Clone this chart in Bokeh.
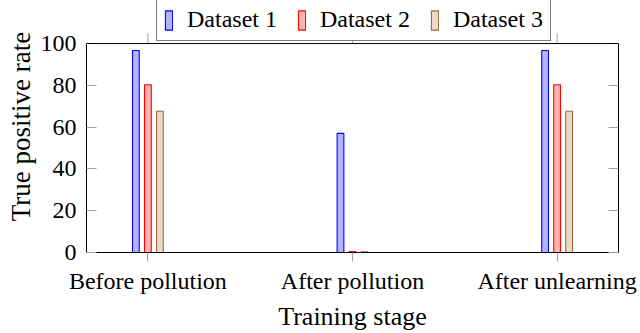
from bokeh.plotting import figure
from bokeh.models import (Range1d, FixedTicker, LinearAxis, Legend, LegendItem, Span)
from bokeh.transform import dodge
from bokeh.embed import file_html
from bokeh.resources import INLINE

stages = ["Before pollution", "After pollution", "After unlearning"]
dataset1 = [96.7, 57.0, 96.7]
dataset2 = [80.3, 0.5, 80.3]
dataset3 = [67.6, 0.3, 67.6]
y_ticks = [0, 20, 40, 60, 80, 100]
series_names = ["Dataset 1", "Dataset 2", "Dataset 3"]

FONT = "Liberation Serif"
FS = "24px"
TICK = "#a0a0a0"

Y_MAX = 100
Y_TOP = 120.6  # extra room above the axis box for the legend

xs = list(range(len(stages)))
src = dict(x=xs, d1=dataset1, d2=dataset2, d3=dataset3)

p = figure(width=640, height=333, output_backend="svg", toolbar_location=None,
           x_range=Range1d(-0.3, 2.3), y_range=Range1d(0, Y_TOP),
           min_border_left=86, min_border_right=22, min_border_top=0, min_border_bottom=80)
p.grid.visible = False
p.outline_line_color = None
p.background_fill_color = "white"
p.border_fill_color = "white"

# top border of the axis box
p.add_layout(Span(location=Y_MAX, dimension="width", line_color="black", line_width=1))

# top tick marks (outward, above the box)
p.segment(x0=xs, x1=xs, y0=[Y_MAX] * len(xs), y1=[Y_MAX + 5.0] * len(xs),
          line_color=TICK, line_width=1)

bw = 0.033
off = 0.0587
r1 = p.vbar(x=dodge("x", -off), top="d1", width=bw, source=src,
            fill_color="#b3b3ff", line_color="#0000ff", line_width=1.1)
r2 = p.vbar(x=dodge("x", 0), top="d2", width=bw, source=src,
            fill_color="#ffb3b3", line_color="#ff0000", line_width=1.1)
r3 = p.vbar(x=dodge("x", off), top="d3", width=bw, source=src,
            fill_color="#ecd9c6", line_color="#9c6b3c", line_width=1.1)

# bottom axis
xa = p.xaxis[0]
xa.ticker = FixedTicker(ticks=xs)
xa.major_label_overrides = {i: s for i, s in enumerate(stages)}
xa.major_label_text_font = FONT
xa.major_label_text_font_size = FS
xa.major_label_text_color = "black"
xa.major_tick_in = 0
xa.major_tick_out = 9
xa.major_tick_line_color = TICK
xa.minor_tick_line_color = None
xa.axis_line_color = "black"
xa.major_label_standoff = 6
xa.axis_label = "Training stage"
xa.axis_label_text_font = FONT
xa.axis_label_text_font_size = "26px"
xa.axis_label_text_font_style = "normal"
xa.axis_label_text_color = "black"
xa.axis_label_standoff = 5

# left axis
ya = p.yaxis[0]
ya.ticker = FixedTicker(ticks=y_ticks)
ya.bounds = (0, Y_MAX)
ya.major_label_text_font = FONT
ya.major_label_text_font_size = FS
ya.major_label_text_color = "black"
ya.major_tick_in = 10
ya.major_tick_out = 0
ya.major_tick_line_color = TICK
ya.minor_tick_line_color = None
ya.axis_line_color = "black"
ya.major_label_standoff = 10
ya.axis_label = "True positive rate"
ya.axis_label_text_font = FONT
ya.axis_label_text_font_size = "27px"
ya.axis_label_text_font_style = "normal"
ya.axis_label_text_color = "black"
ya.axis_label_standoff = 2

# right axis (ticks only)
ra = LinearAxis(ticker=FixedTicker(ticks=y_ticks), bounds=(0, Y_MAX),
                major_label_text_font_size="0px", major_label_standoff=0,
                major_tick_in=10, major_tick_out=0, major_tick_line_color=TICK,
                minor_tick_line_color=None, axis_line_color="black")
ra.major_label_overrides = {t: "" for t in y_ticks}
p.add_layout(ra, "right")

items = [LegendItem(label=name, renderers=[r]) for r, name in zip([r1, r2, r3], series_names)]
legend = Legend(items=items, orientation="horizontal", location=(70, 211),
                label_text_font=FONT, label_text_font_size=FS,
                label_text_color="black",
                glyph_width=9, glyph_height=24, label_standoff=14,
                spacing=20, padding=7, margin=0,
                border_line_color="black", border_line_width=1.2,
                background_fill_color="white", background_fill_alpha=1.0)
p.add_layout(legend, "center")

open("out.html", "w").write(file_html(p, INLINE))
